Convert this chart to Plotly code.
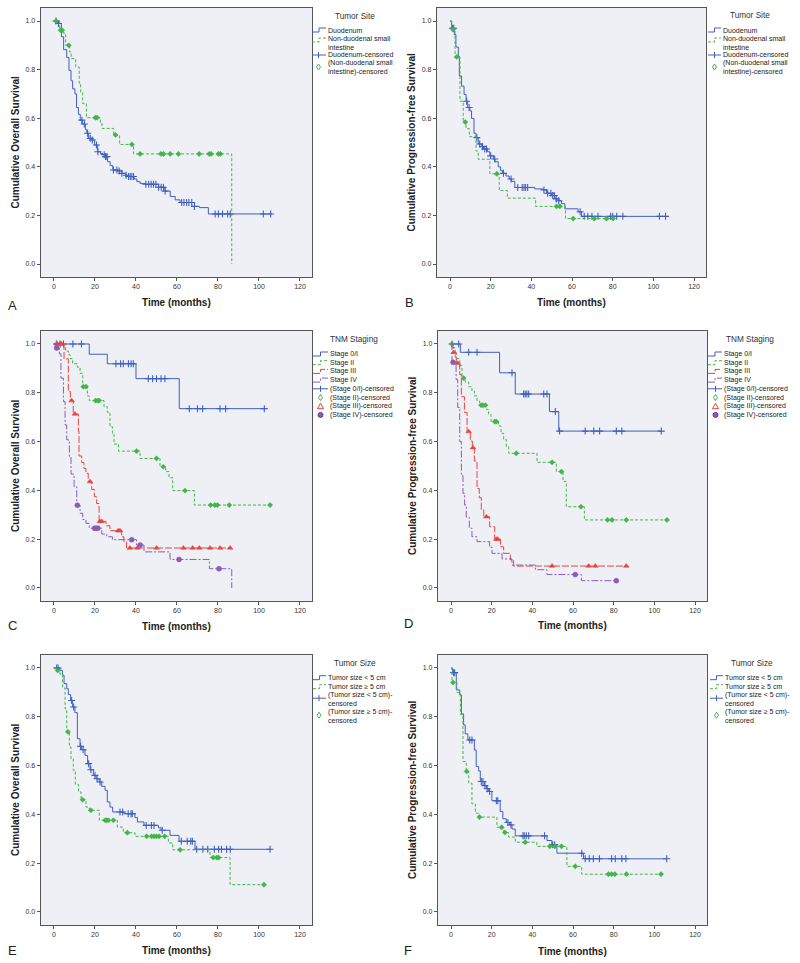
import numpy as np
import plotly.graph_objects as go

# ---------------- DATA ----------------
X_TICKS = [0, 20, 40, 60, 80, 100, 120]
Y_TICKS = [0.0, 0.2, 0.4, 0.6, 0.8, 1.0]
Y_TICKTEXT = ["0.0", "0.2", "0.4", "0.6", "0.8", "1.0"]

# Panel A: overall survival by tumour site
a_duo_t = [0, 1.8, 3.6, 4.7, 6.2, 7.3, 8.3, 9.1, 10.2, 11.0, 11.9, 12.8, 13.8, 15.3, 16.0, 16.9, 18.0, 19.8, 21.3, 22.6, 23.9, 25.2, 26.1, 27.4, 28.7, 31.0, 33.1, 34.8, 35.9, 39.1, 40.4, 42.0, 44.5, 51.0, 54.2, 56.7, 59.1, 61.5, 68.5, 71.0, 75.3]
a_duo_s = [1.0, 0.99, 0.935, 0.882, 0.85, 0.797, 0.754, 0.721, 0.70, 0.644, 0.616, 0.592, 0.576, 0.554, 0.538, 0.517, 0.51, 0.49, 0.462, 0.455, 0.45, 0.442, 0.421, 0.405, 0.387, 0.383, 0.373, 0.365, 0.36, 0.35, 0.339, 0.331, 0.328, 0.316, 0.30, 0.278, 0.264, 0.253, 0.237, 0.232, 0.206]
a_duo_end = 106.2
a_duo_cens = [1.0, 2.2, 13.6, 14.8, 16.4, 17.7, 18.7, 20.7, 21.4, 24.5, 25.2, 25.8, 29.0, 30.7, 31.8, 33.1, 35.2, 36.4, 37.2, 38.0, 38.8, 44.8, 46.2, 47.4, 48.5, 49.7, 51.0, 52.3, 53.4, 54.2, 62.3, 63.4, 64.7, 65.8, 67.2, 68.5, 78.6, 80.2, 82.2, 84.7, 86.0, 102.1, 105.7]

a_non_t = [0, 2.8, 4.7, 5.7, 7.6, 8.4, 10.6, 12.3, 13.0, 14.0, 15.8, 22.6, 23.4, 29.1, 32.0, 38.8, 86.7]
a_non_s = [1.0, 0.962, 0.95, 0.90, 0.873, 0.845, 0.81, 0.743, 0.706, 0.66, 0.602, 0.581, 0.558, 0.531, 0.492, 0.453, 0.0]
a_non_end = 86.7
a_non_cens = [1.0, 3.2, 4.0, 7.2, 20.2, 21.0, 30.0, 38.0, 42.0, 52.2, 53.4, 56.7, 60.7, 70.8, 75.7, 76.6, 80.2, 81.2]

# Panel B: progression-free survival by tumour site
b_duo_t = [0, 0.8, 2.1, 2.9, 4.1, 4.6, 5.7, 6.9, 7.9, 8.7, 9.8, 10.6, 11.8, 12.8, 13.9, 15.6, 16.4, 18.5, 19.6, 21.3, 22.1, 23.7, 24.9, 25.9, 27.5, 29.1, 30.3, 31.9, 41.7, 45.8, 47.5, 49.9, 51.6, 53.2, 54.8, 56.5, 63.0, 64.7]
b_duo_s = [1.0, 0.97, 0.944, 0.893, 0.855, 0.774, 0.732, 0.698, 0.67, 0.644, 0.63, 0.599, 0.538, 0.52, 0.494, 0.483, 0.473, 0.462, 0.445, 0.432, 0.421, 0.40, 0.384, 0.373, 0.362, 0.35, 0.34, 0.315, 0.309, 0.305, 0.291, 0.282, 0.268, 0.26, 0.248, 0.227, 0.215, 0.196]
b_duo_end = 106.0
b_duo_cens = [1.2, 1.8, 8.2, 9.4, 13.2, 14.6, 16.0, 17.1, 18.0, 20.0, 22.0, 26.3, 30.0, 33.3, 35.5, 36.4, 37.2, 38.2, 46.2, 48.0, 49.6, 50.5, 51.3, 52.3, 53.5, 64.0, 66.0, 67.8, 69.8, 72.8, 79.0, 80.0, 82.0, 85.0, 103.0, 106.0]

b_non_t = [0, 0.8, 2.5, 4.9, 6.5, 7.9, 9.5, 12.8, 13.9, 19.6, 24.2, 28.2, 42.1, 56.8]
b_non_s = [1.0, 0.965, 0.852, 0.67, 0.584, 0.557, 0.524, 0.465, 0.431, 0.371, 0.302, 0.271, 0.237, 0.187]
b_non_end = 81.5
b_non_cens = [1.5, 3.3, 7.5, 23.0, 52.4, 54.0, 60.6, 71.0, 77.0, 80.2]

# Panel C: overall survival by TNM stage
c_s1_t = [0, 17.2, 26.0, 40.0, 61.1]
c_s1_s = [1.0, 0.958, 0.919, 0.858, 0.735]
c_s1_end = 102.6
c_s1_cens = [1.2, 3.0, 4.6, 9.2, 13.4, 30.2, 32.5, 33.8, 36.3, 37.6, 38.7, 46.0, 48.1, 50.0, 52.2, 54.1, 66.0, 70.0, 72.5, 81.0, 83.7, 102.6]

c_s2_t = [0, 5.7, 7.0, 7.8, 9.1, 11.4, 12.7, 14.0, 16.3, 17.2, 24.4, 26.0, 27.3, 28.5, 29.3, 31.5, 42.0, 51.7, 54.5, 56.1, 57.9, 68.5]
c_s2_s = [1.0, 0.971, 0.956, 0.94, 0.919, 0.905, 0.88, 0.825, 0.787, 0.768, 0.743, 0.72, 0.661, 0.634, 0.59, 0.561, 0.531, 0.497, 0.477, 0.452, 0.399, 0.34]
c_s2_end = 105.4
c_s2_cens = [1.3, 14.3, 15.6, 20.3, 21.5, 22.0, 40.3, 50.0, 53.3, 63.9, 76.4, 78.5, 79.7, 85.5, 105.4]

c_s3_t = [0, 4.9, 7.0, 8.0, 9.4, 11.9, 12.2, 13.5, 14.6, 15.6, 16.7, 18.4, 19.7, 20.8, 22.0, 25.4, 27.3, 33.0, 34.1, 35.4]
c_s3_s = [1.0, 0.939, 0.805, 0.768, 0.713, 0.643, 0.541, 0.514, 0.49, 0.47, 0.436, 0.404, 0.374, 0.346, 0.273, 0.255, 0.235, 0.21, 0.19, 0.164]
c_s3_end = 85.9
c_s3_cens = [1.6, 2.9, 3.7, 8.6, 10.2, 17.6, 22.4, 23.3, 31.3, 32.2, 37.0, 40.7, 50.0, 63.1, 67.6, 70.9, 76.1, 81.0, 85.9]

c_s4_t = [0, 1.0, 2.6, 3.4, 4.6, 5.4, 6.2, 7.5, 8.3, 9.8, 11.1, 12.7, 14.0, 15.6, 17.2, 23.3, 25.7, 28.5, 40.3, 43.9, 56.6, 75.8, 86.7]
c_s4_s = [1.0, 0.984, 0.96, 0.86, 0.764, 0.668, 0.607, 0.538, 0.467, 0.415, 0.339, 0.306, 0.281, 0.265, 0.245, 0.221, 0.21, 0.198, 0.176, 0.148, 0.117, 0.079, 0.0]
c_s4_end = 86.7
c_s4_cens = [1.3, 11.4, 19.8, 20.6, 21.4, 37.9, 42.0, 61.0, 80.5]

# Panel D: progression-free survival by TNM stage
d_s1_t = [0, 4.6, 23.9, 31.6, 48.4, 53.0]
d_s1_s = [1.0, 0.966, 0.882, 0.795, 0.723, 0.643]
d_s1_end = 103.4
d_s1_cens = [0.5, 3.8, 8.7, 12.8, 30.0, 35.7, 36.5, 37.3, 38.2, 45.6, 47.2, 51.3, 53.4, 66.0, 70.2, 73.1, 81.3, 84.0, 103.4]

d_s2_t = [0, 1.0, 2.1, 4.3, 5.4, 7.0, 8.7, 10.3, 11.5, 12.8, 14.1, 17.4, 18.5, 19.7, 23.4, 24.6, 25.9, 27.2, 28.4, 42.3, 51.8, 55.1, 56.7, 65.6]
d_s2_s = [1.0, 0.985, 0.94, 0.911, 0.86, 0.844, 0.825, 0.807, 0.787, 0.766, 0.749, 0.732, 0.712, 0.682, 0.664, 0.634, 0.609, 0.579, 0.552, 0.515, 0.477, 0.437, 0.333, 0.279]
d_s2_end = 106.2
d_s2_cens = [0.5, 6.2, 14.8, 15.7, 16.9, 21.5, 22.3, 32.1, 49.7, 54.3, 63.9, 77.0, 79.2, 86.2, 106.2]

d_s3_t = [0, 1.0, 2.6, 4.3, 5.1, 6.6, 7.9, 9.5, 10.5, 11.5, 12.8, 13.9, 14.9, 16.1, 19.0, 21.5, 24.3, 25.9, 29.2, 30.8]
d_s3_s = [1.0, 0.965, 0.921, 0.875, 0.784, 0.72, 0.641, 0.602, 0.575, 0.52, 0.408, 0.37, 0.32, 0.292, 0.251, 0.20, 0.169, 0.142, 0.115, 0.09]
d_s3_end = 86.2
d_s3_cens = [1.3, 3.3, 8.7, 10.8, 17.4, 22.3, 23.0, 49.7, 67.7, 71.0, 86.2]

d_s4_t = [0, 0.5, 2.5, 3.3, 4.3, 5.1, 5.9, 6.7, 7.5, 9.0, 10.3, 12.8, 19.0, 20.2, 25.1, 30.0, 41.5, 47.2, 64.1]
d_s4_s = [1.0, 0.925, 0.855, 0.74, 0.60, 0.462, 0.388, 0.34, 0.29, 0.245, 0.21, 0.19, 0.167, 0.142, 0.119, 0.094, 0.075, 0.055, 0.03]
d_s4_end = 81.3
d_s4_cens = [1.0, 61.1, 81.3]

# Panel E: overall survival by tumour size
e_small_t = [0, 2.9, 4.1, 4.9, 6.2, 7.0, 8.1, 9.1, 10.2, 11.4, 12.7, 13.5, 15.1, 16.4, 17.6, 19.2, 20.5, 22.0, 23.3, 24.9, 26.0, 27.3, 28.6, 34.1, 39.5, 40.7, 43.9, 50.9, 52.2, 56.6, 61.0, 68.8]
e_small_s = [1.0, 0.99, 0.97, 0.936, 0.915, 0.891, 0.867, 0.84, 0.817, 0.71, 0.679, 0.665, 0.642, 0.608, 0.583, 0.56, 0.546, 0.533, 0.515, 0.499, 0.451, 0.43, 0.41, 0.403, 0.387, 0.369, 0.355, 0.345, 0.335, 0.314, 0.29, 0.257]
e_small_end = 105.4
e_small_cens = [1.3, 2.0, 8.6, 9.6, 13.0, 14.2, 16.9, 18.0, 20.0, 21.0, 22.5, 32.2, 33.5, 36.2, 37.6, 38.2, 45.0, 47.5, 48.8, 52.8, 62.1, 65.0, 66.7, 67.5, 69.6, 72.6, 75.0, 78.2, 80.3, 81.7, 84.2, 86.0, 105.4]

e_large_t = [0, 1.3, 2.9, 4.2, 5.4, 6.2, 7.5, 8.3, 9.4, 10.4, 12.0, 13.2, 15.6, 17.2, 22.1, 30.9, 33.8, 39.5, 55.8, 57.9, 76.1, 85.9]
e_large_s = [1.0, 0.99, 0.975, 0.918, 0.833, 0.738, 0.676, 0.628, 0.581, 0.523, 0.492, 0.46, 0.43, 0.417, 0.376, 0.348, 0.325, 0.31, 0.283, 0.255, 0.223, 0.112]
e_large_end = 102.4
e_large_cens = [1.8, 6.8, 14.0, 18.0, 24.9, 25.7, 26.5, 29.0, 35.8, 45.2, 47.6, 48.8, 50.0, 51.3, 54.0, 61.5, 77.7, 79.4, 80.3, 102.4]

# Panel F: progression-free survival by tumour size
f_small_t = [0, 0.8, 2.6, 4.3, 5.1, 6.2, 7.0, 8.3, 11.5, 12.4, 13.6, 14.4, 16.4, 17.4, 18.5, 20.1, 24.2, 25.5, 27.2, 28.8, 30.0, 31.6, 47.2, 49.6, 52.1, 65.2]
f_small_s = [1.0, 0.981, 0.91, 0.89, 0.812, 0.767, 0.73, 0.705, 0.664, 0.596, 0.578, 0.535, 0.518, 0.505, 0.494, 0.456, 0.412, 0.382, 0.367, 0.357, 0.34, 0.312, 0.293, 0.276, 0.241, 0.218]
f_small_end = 106.1
f_small_cens = [1.3, 1.8, 9.2, 10.3, 14.9, 15.7, 16.7, 17.8, 19.0, 22.3, 23.0, 28.0, 29.5, 35.4, 36.0, 37.0, 38.2, 46.0, 50.0, 51.0, 64.3, 66.0, 68.0, 70.0, 73.0, 79.0, 80.8, 84.0, 86.0, 106.1]

f_large_t = [0, 0.5, 2.9, 4.6, 5.9, 7.5, 8.7, 10.3, 12.0, 13.6, 22.6, 25.9, 28.3, 31.6, 42.2, 57.0, 64.3]
f_large_s = [1.0, 0.941, 0.90, 0.809, 0.617, 0.576, 0.528, 0.443, 0.405, 0.389, 0.347, 0.326, 0.307, 0.286, 0.269, 0.187, 0.155]
f_large_end = 103.3
f_large_cens = [1.0, 7.7, 14.0, 24.9, 26.5, 36.5, 48.6, 51.1, 54.3, 61.1, 77.4, 79.0, 80.6, 86.3, 103.3]

# ---------------- STYLE ----------------
W, H = 800, 963
FONT = "Liberation Sans, Arial, sans-serif"
BLUE, GREEN, RED, PURPLE = "#3F5FC0", "#40B548", "#E8453C", "#8A5BB8"
STYLE = {
    "blue": dict(color=BLUE, dash="solid", sym="cross-thin", msize=5),
    "green": dict(color=GREEN, dash="3px,2px", sym="diamond", msize=4),
    "red": dict(color=RED, dash="7px,2px", sym="triangle-up", msize=5),
    "purple": dict(color=PURPLE, dash="7px,2px,2px,2px", sym="circle", msize=5),
}
X_RANGE = [-6.5, 126]
Y_RANGE = [-0.053, 1.053]

# pixel anchors of each panel: x=0, x=120, y=1.0, y=0.0
PANELS = {
    "A": dict(x0=54, x120=300, y1=21, y0=264),
    "B": dict(x0=450, x120=694, y1=21, y0=264),
    "C": dict(x0=54, x120=300, y1=344, y0=588),
    "D": dict(x0=451, x120=695, y1=344, y0=588),
    "E": dict(x0=54, x120=300, y1=668, y0=912),
    "F": dict(x0=451, x120=695, y1=668, y0=912),
}


def px(x):
    return x / W


def py(y):
    return 1 - y / H


fig = go.Figure()
layout = dict(
    width=W, height=H, margin=dict(l=0, r=0, t=0, b=0, autoexpand=False),
    paper_bgcolor="white", plot_bgcolor="#EFF0F5", showlegend=False,
    font=dict(family=FONT, color="#333"),
)

axis_ids = {}
for i, (name, p) in enumerate(PANELS.items()):
    k = "" if i == 0 else str(i + 1)
    xp = (p["x120"] - p["x0"]) / 120.0
    yp = (p["y0"] - p["y1"])
    left = p["x0"] + X_RANGE[0] * xp
    right = p["x0"] + X_RANGE[1] * xp
    top = p["y0"] - Y_RANGE[1] * yp
    bottom = p["y0"] - Y_RANGE[0] * yp
    common = dict(showline=True, mirror=True, linecolor="#555", linewidth=1,
                  ticks="outside", ticklen=3, tickcolor="#555", tickwidth=1,
                  showgrid=False, zeroline=False, automargin=False, fixedrange=True,
                  tickfont=dict(size=7, color="#333", family=FONT))
    layout["xaxis" + k] = dict(domain=[px(left), px(right)], range=X_RANGE,
                              tickvals=X_TICKS, anchor="y" + k, **common)
    layout["yaxis" + k] = dict(domain=[py(bottom), py(top)], range=Y_RANGE,
                              tickvals=Y_TICKS, ticktext=Y_TICKTEXT,
                              anchor="x" + k, **common)
    axis_ids[name] = ("x" + k, "y" + k, left, right, top, bottom)
fig.update_layout(**layout)


def surv_at(t, s, c):
    idx = np.searchsorted(np.asarray(t), np.asarray(c), side="right") - 1
    return np.asarray(s)[idx]


def add_curve(panel, style, t, s, end, cens, name):
    xa, ya = axis_ids[panel][:2]
    st = STYLE[style]
    fig.add_trace(go.Scatter(x=list(t) + [end], y=list(s) + [s[-1]], mode="lines",
                             line=dict(color=st["color"], width=1, dash=st["dash"], shape="hv"),
                             xaxis=xa, yaxis=ya, name=name, hoverinfo="skip"))
    mk = dict(symbol=st["sym"], size=st["msize"], color=st["color"],
              line=dict(color=st["color"], width=1.1 if style == "blue" else 0.5))
    fig.add_trace(go.Scatter(x=cens, y=surv_at(t, s, cens), mode="markers", marker=mk,
                             xaxis=xa, yaxis=ya, name=name + "-censored", hoverinfo="skip"))


add_curve("A", "blue", a_duo_t, a_duo_s, a_duo_end, a_duo_cens, "Duodenum")
add_curve("A", "green", a_non_t, a_non_s, a_non_end, a_non_cens, "Non-duodenal small intestine")
add_curve("B", "blue", b_duo_t, b_duo_s, b_duo_end, b_duo_cens, "Duodenum")
add_curve("B", "green", b_non_t, b_non_s, b_non_end, b_non_cens, "Non-duodenal small intestine")
add_curve("C", "blue", c_s1_t, c_s1_s, c_s1_end, c_s1_cens, "Stage 0/I")
add_curve("C", "green", c_s2_t, c_s2_s, c_s2_end, c_s2_cens, "Stage II")
add_curve("C", "red", c_s3_t, c_s3_s, c_s3_end, c_s3_cens, "Stage III")
add_curve("C", "purple", c_s4_t, c_s4_s, c_s4_end, c_s4_cens, "Stage IV")
add_curve("D", "blue", d_s1_t, d_s1_s, d_s1_end, d_s1_cens, "Stage 0/I")
add_curve("D", "green", d_s2_t, d_s2_s, d_s2_end, d_s2_cens, "Stage II")
add_curve("D", "red", d_s3_t, d_s3_s, d_s3_end, d_s3_cens, "Stage III")
add_curve("D", "purple", d_s4_t, d_s4_s, d_s4_end, d_s4_cens, "Stage IV")
add_curve("E", "blue", e_small_t, e_small_s, e_small_end, e_small_cens, "Tumor size < 5 cm")
add_curve("E", "green", e_large_t, e_large_s, e_large_end, e_large_cens, "Tumor size ≥ 5 cm")
add_curve("F", "blue", f_small_t, f_small_s, f_small_end, f_small_cens, "Tumor size < 5 cm")
add_curve("F", "green", f_large_t, f_large_s, f_large_end, f_large_cens, "Tumor size ≥ 5 cm")

# ---------------- axis titles & panel letters ----------------
Y_TITLES = {"A": "Cumulative Overall Survival", "B": "Cumulative Progression-free Survival",
            "C": "Cumulative Overall Survival", "D": "Cumulative Progression-free Survival",
            "E": "Cumulative Overall Survival", "F": "Cumulative Progression-free Survival"}
YT_X = {"A": 15, "B": 411, "C": 15, "D": 412, "E": 15, "F": 412}
XT_Y = {"A": 303, "B": 303, "C": 626, "D": 625, "E": 950, "F": 951}
LETTER_POS = {"A": (12, 305), "B": (410, 303), "C": (12, 625), "D": (408, 623), "E": (12, 950), "F": (408, 950)}

for name in PANELS:
    xa, ya, left, right, top, bottom = axis_ids[name]
    fig.add_annotation(x=px((left + right) / 2), y=py(XT_Y[name]), xref="paper", yref="paper",
                       text="<b>Time (months)</b>", showarrow=False,
                       font=dict(size=10, color="#222", family=FONT), xanchor="center", yanchor="middle")
    fig.add_annotation(x=px(YT_X[name]), y=py((top + bottom) / 2), xref="paper", yref="paper",
                       text="<b>" + Y_TITLES[name] + "</b>", textangle=-90, showarrow=False,
                       font=dict(size=10, color="#222", family=FONT), xanchor="center", yanchor="middle")
    lx, ly = LETTER_POS[name]
    fig.add_annotation(x=px(lx), y=py(ly), xref="paper", yref="paper", text=name, showarrow=False,
                       font=dict(size=13, color="#222", family=FONT), xanchor="center", yanchor="middle")


# ---------------- custom SPSS-like legends ----------------
def add_legend(title, title_pos, x0, x1, tx, sx, items):
    fig.add_annotation(x=px(title_pos[0]), y=py(title_pos[1]), xref="paper", yref="paper",
                       text=title, showarrow=False, font=dict(size=8.2, color="#333", family=FONT),
                       xanchor="center", yanchor="middle")
    for kind, style, text, yc, iy in items:
        st = STYLE[style]
        col = st["color"]
        fig.add_annotation(x=px(tx), y=py(yc), xref="paper", yref="paper", text=text,
                           showarrow=False, font=dict(size=7, color="#222", family=FONT),
                           xanchor="left", yanchor="middle", align="left", borderpad=0)
        xm = (x0 + x1) / 2
        if kind == "line":
            path = (f"M {px(x0)},{py(iy + 2)} L {px(xm)},{py(iy + 2)} "
                    f"L {px(xm)},{py(iy - 2)} L {px(x1)},{py(iy - 2)}")
            fig.add_shape(type="path", path=path, xref="paper", yref="paper",
                          line=dict(color=col, width=1, dash=st["dash"] if style != "blue" else "solid"))
        elif kind == "cross":
            fig.add_shape(type="line", x0=px(x0), x1=px(x1), y0=py(iy), y1=py(iy),
                          xref="paper", yref="paper", line=dict(color=col, width=1))
            fig.add_shape(type="line", x0=px(sx), x1=px(sx), y0=py(iy - 3), y1=py(iy + 3),
                          xref="paper", yref="paper", line=dict(color=col, width=1))
        elif kind == "diamond":
            path = (f"M {px(sx)},{py(iy - 3)} L {px(sx + 2)},{py(iy)} L {px(sx)},{py(iy + 3)} "
                    f"L {px(sx - 2)},{py(iy)} Z")
            fig.add_shape(type="path", path=path, xref="paper", yref="paper", line=dict(color=col, width=1))
        elif kind == "triangle":
            path = (f"M {px(sx)},{py(iy - 3)} L {px(sx + 3)},{py(iy + 2.5)} "
                    f"L {px(sx - 3)},{py(iy + 2.5)} Z")
            fig.add_shape(type="path", path=path, xref="paper", yref="paper", line=dict(color=col, width=1))
        elif kind == "circle":
            fig.add_shape(type="circle", x0=px(sx - 2.5), x1=px(sx + 2.5), y0=py(iy - 2.5), y1=py(iy + 2.5),
                          xref="paper", yref="paper", line=dict(color="#6A3A90", width=1), fillcolor=col)


def site_items(base):
    return [
        ("line", "blue", "Duodenum", base, base),
        ("line", "green", "Non-duodenal small<br>intestine", base + 12.7, base + 10),
        ("cross", "blue", "Duodenum-censored", base + 25, base + 25),
        ("diamond", "green", "(Non-duodenal small<br>intestine)-censored", base + 37.5, base + 37),
    ]


add_legend("Tumor Site", (355, 16.5), 312, 326, 327, 318.5, site_items(30))
add_legend("Tumor Site", (750, 16), 708, 721, 722, 714.5, site_items(30))


def stage_items(ys):
    return [
        ("line", "blue", "Stage 0/I", ys[0], ys[0]),
        ("line", "green", "Stage II", ys[1], ys[1]),
        ("line", "red", "Stage III", ys[2], ys[2]),
        ("line", "purple", "Stage IV", ys[3], ys[3]),
        ("cross", "blue", "(Stage 0/I)-censored", ys[4], ys[4]),
        ("diamond", "green", "(Stage II)-censored", ys[5], ys[5]),
        ("triangle", "red", "(Stage III)-censored", ys[6], ys[6]),
        ("circle", "purple", "(Stage IV)-censored", ys[7], ys[7]),
    ]


STAGE_Y = [354, 362.7, 371.4, 380.1, 388.8, 397.5, 406.2, 414.9]
add_legend("TNM Staging", (354, 339.5), 313, 328, 329, 320.5, stage_items(STAGE_Y))
add_legend("TNM Staging", (750, 339.5), 708, 722, 723, 715.5, stage_items(STAGE_Y))


def size_items(base):
    return [
        ("line", "blue", "Tumor size < 5 cm", base, base),
        ("line", "green", "Tumor size ≥ 5 cm", base + 9, base + 9),
        ("cross", "blue", "(Tumor size < 5 cm)-<br>censored", base + 21.5, base + 20.5),
        ("diamond", "green", "(Tumor size ≥ 5 cm)-<br>censored", base + 38.5, base + 37.5),
    ]


add_legend("Tumor Size", (355, 663), 313, 326, 327, 319, size_items(677.7))
add_legend("Tumor Size", (752, 663), 710, 723, 724, 716.5, size_items(677.7))

fig.write_html("out.html", config={"displayModeBar": False, "staticPlot": True},
               post_script="document.body.style.margin='0px';document.body.style.overflow='hidden';")
